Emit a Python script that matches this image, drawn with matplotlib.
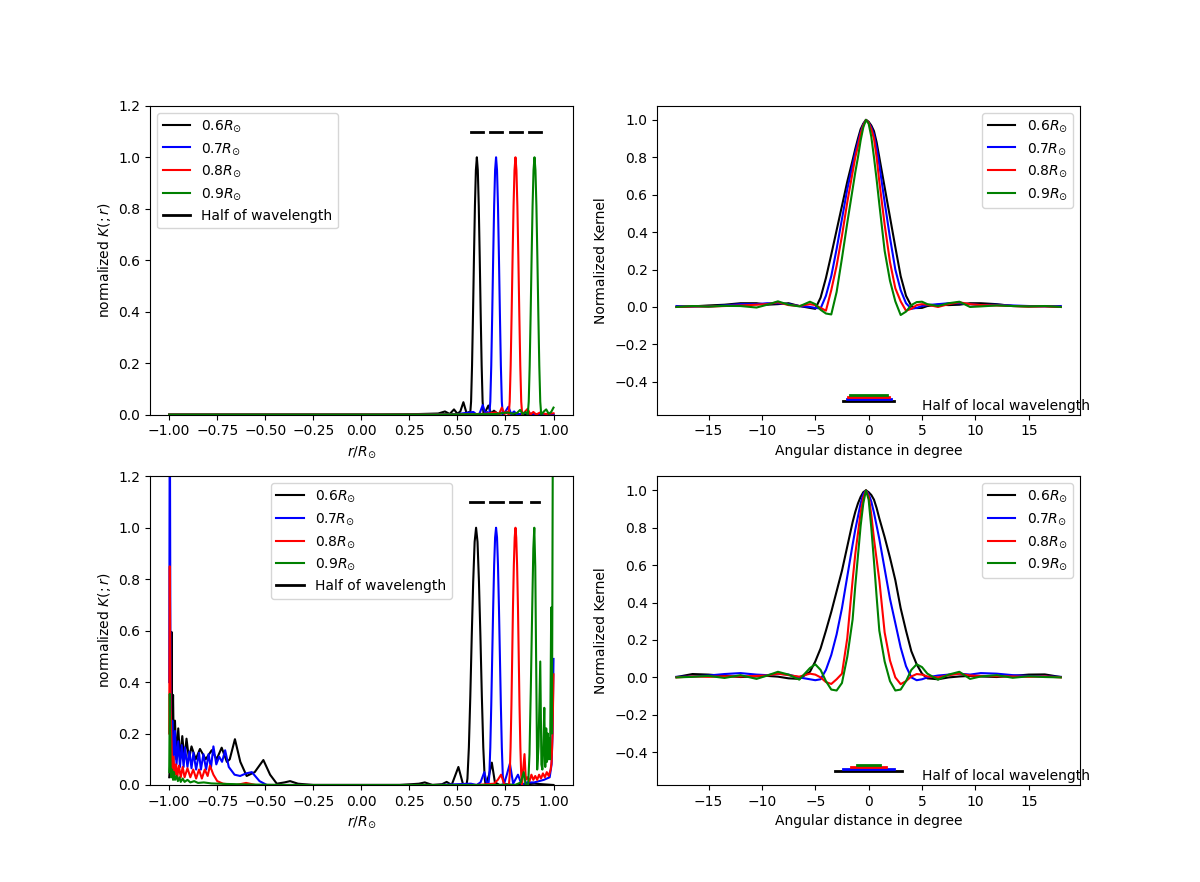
import numpy as np
import matplotlib
matplotlib.use("Agg")
from matplotlib import pyplot as plt

labels = [r"$0.6R_{\odot}$", r"$0.7R_{\odot}$", r"$0.8R_{\odot}$", r"$0.9R_{\odot}$"]
colors = ["k", "b", "r", "g"]

# ---- radial kernels (left column), (r/Rsun, K) pairs ----
tl_06 = [(-1.0, 0.0), (-0.5, 0.0), (-0.1, 0.0), (0.1, 0.0), (0.3, 0.002), (0.40, 0.004),
         (0.435, 0.012), (0.46, 0.002), (0.482, 0.02), (0.50, 0.003), (0.515, 0.012),
         (0.531, 0.048), (0.548, 0.004), (0.560, 0.01), (0.566, 0.0), (0.571, 0.05),
         (0.576, 0.19), (0.581, 0.39), (0.586, 0.61), (0.591, 0.81), (0.596, 0.95),
         (0.601, 1.0), (0.606, 0.95), (0.611, 0.81), (0.616, 0.61), (0.621, 0.39),
         (0.626, 0.19), (0.631, 0.05), (0.636, 0.0), (0.648, 0.015), (0.661, 0.035),
         (0.675, 0.004), (0.69, 0.015), (0.71, 0.003), (0.75, 0.006), (0.80, 0.002),
         (0.90, 0.0), (1.0, 0.0)]
tl_07 = [(-1.0, 0.0), (-0.5, 0.0), (0.0, 0.0), (0.3, 0.0), (0.5, 0.002), (0.583, 0.01),
         (0.60, 0.0), (0.615, 0.004), (0.632, 0.037), (0.645, 0.003), (0.655, 0.01),
         (0.666, 0.0), (0.671, 0.05), (0.676, 0.19), (0.681, 0.39), (0.686, 0.61),
         (0.691, 0.81), (0.696, 0.95), (0.701, 1.0), (0.706, 0.95), (0.711, 0.81),
         (0.716, 0.61), (0.721, 0.39), (0.726, 0.19), (0.731, 0.05), (0.736, 0.0),
         (0.75, 0.012), (0.765, 0.03), (0.78, 0.002), (0.795, 0.012), (0.81, 0.0),
         (0.85, 0.006), (0.9, 0.002), (1.0, 0.0)]
tl_08 = [(-1.0, 0.0), (-0.5, 0.0), (0.0, 0.0), (0.5, 0.0), (0.65, 0.003), (0.70, 0.008),
         (0.715, 0.0), (0.731, 0.027), (0.745, 0.002), (0.757, 0.012), (0.767, 0.0),
         (0.772, 0.05), (0.777, 0.19), (0.782, 0.39), (0.787, 0.61), (0.792, 0.81),
         (0.797, 0.95), (0.802, 1.0), (0.807, 0.95), (0.812, 0.81), (0.817, 0.61),
         (0.822, 0.39), (0.827, 0.19), (0.832, 0.05), (0.837, 0.0), (0.85, 0.01),
         (0.865, 0.022), (0.88, 0.0), (0.895, 0.01), (0.91, 0.0), (0.93, 0.008),
         (0.96, 0.002), (1.0, 0.005)]
tl_09 = [(-1.0, 0.0), (-0.5, 0.0), (0.0, 0.0), (0.4, 0.0), (0.7, 0.002), (0.76, 0.008),
         (0.79, 0.003), (0.81, 0.006), (0.826, 0.018), (0.84, 0.002), (0.855, 0.01),
         (0.866, 0.0), (0.871, 0.05), (0.876, 0.19), (0.881, 0.39), (0.886, 0.61),
         (0.891, 0.81), (0.896, 0.95), (0.901, 1.0), (0.906, 0.95), (0.911, 0.81),
         (0.916, 0.61), (0.921, 0.39), (0.926, 0.19), (0.931, 0.05), (0.936, 0.0),
         (0.95, 0.012), (0.962, 0.02), (0.975, 0.003), (0.988, 0.01), (1.0, 0.027)]

bl_06 = [(-1.0, 0.03), (-0.993, 0.1), (-0.988, 0.595), (-0.984, 0.15), (-0.980, 0.35),
         (-0.976, 0.12), (-0.970, 0.25), (-0.963, 0.10), (-0.953, 0.22), (-0.943, 0.10),
         (-0.932, 0.19), (-0.921, 0.10), (-0.910, 0.18), (-0.897, 0.10), (-0.884, 0.15),
         (-0.862, 0.10), (-0.840, 0.14), (-0.81, 0.10), (-0.779, 0.135), (-0.753, 0.10),
         (-0.727, 0.145), (-0.70, 0.09), (-0.685, 0.10), (-0.658, 0.178), (-0.63, 0.09),
         (-0.597, 0.035), (-0.555, 0.05), (-0.51, 0.097), (-0.475, 0.04), (-0.44, 0.005),
         (-0.40, 0.01), (-0.371, 0.015), (-0.33, 0.005), (-0.25, 0.0), (0.0, 0.0),
         (0.2, 0.0), (0.3, 0.005), (0.33, 0.01), (0.37, 0.0), (0.42, 0.003), (0.444, 0.012),
         (0.47, 0.0), (0.505, 0.07), (0.53, 0.0), (0.547, 0.0), (0.552, 0.024),
         (0.5595, 0.146), (0.567, 0.345), (0.5745, 0.58), (0.582, 0.79), (0.5895, 0.945),
         (0.597, 1.0), (0.6045, 0.945), (0.612, 0.79), (0.6195, 0.58), (0.627, 0.345),
         (0.6345, 0.146), (0.642, 0.024), (0.647, 0.0), (0.665, 0.04), (0.679, 0.087),
         (0.695, 0.01), (0.72, 0.0), (0.75, 0.003), (0.8, 0.0), (0.9, 0.005), (1.0, 0.0)]
bl_07 = [(-1.0, 0.4), (-0.997, 1.6), (-0.993, 0.30), (-0.988, 0.12), (-0.984, 0.25),
         (-0.978, 0.08), (-0.970, 0.21), (-0.962, 0.08), (-0.953, 0.17), (-0.944, 0.07),
         (-0.935, 0.155), (-0.925, 0.07), (-0.918, 0.146), (-0.905, 0.07), (-0.895, 0.13),
         (-0.884, 0.065), (-0.874, 0.126), (-0.86, 0.06), (-0.845, 0.125), (-0.835, 0.06),
         (-0.822, 0.12), (-0.808, 0.06), (-0.795, 0.12), (-0.783, 0.065), (-0.770, 0.15),
         (-0.755, 0.08), (-0.74, 0.11), (-0.725, 0.09), (-0.709, 0.135), (-0.69, 0.07),
         (-0.66, 0.04), (-0.631, 0.035), (-0.60, 0.045), (-0.570, 0.05), (-0.53, 0.015),
         (-0.492, 0.0), (-0.3, 0.0), (0.0, 0.0), (0.4, 0.0), (0.5, 0.003), (0.57, 0.005),
         (0.60, 0.0), (0.62, 0.01), (0.64, 0.05), (0.655, 0.0), (0.661, 0.0), (0.666, 0.038),
         (0.671, 0.146), (0.676, 0.31), (0.681, 0.5), (0.686, 0.69), (0.691, 0.854),
         (0.696, 0.962), (0.701, 1.0), (0.706, 0.962), (0.711, 0.854), (0.716, 0.69),
         (0.721, 0.5), (0.726, 0.31), (0.731, 0.146), (0.736, 0.038), (0.741, 0.0),
         (0.757, 0.04), (0.773, 0.083), (0.79, 0.005), (0.815, 0.04), (0.835, 0.0),
         (0.86, 0.01), (0.9, 0.01), (0.95, 0.02), (0.98, 0.03), (0.99, 0.08), (0.995, 0.2),
         (1.0, 0.49)]
bl_08 = [(-1.0, 0.2), (-0.997, 0.85), (-0.993, 0.3), (-0.988, 0.16), (-0.984, 0.05),
         (-0.978, 0.11), (-0.972, 0.04), (-0.965, 0.08), (-0.958, 0.03), (-0.95, 0.075),
         (-0.94, 0.03), (-0.93, 0.07), (-0.92, 0.03), (-0.905, 0.065), (-0.89, 0.03),
         (-0.875, 0.06), (-0.86, 0.025), (-0.845, 0.06), (-0.83, 0.025), (-0.815, 0.06),
         (-0.80, 0.035), (-0.788, 0.075), (-0.77, 0.04), (-0.75, 0.015), (-0.72, 0.005),
         (-0.65, 0.0), (-0.60, 0.008), (-0.55, 0.0), (0.0, 0.0), (0.6, 0.0), (0.69, 0.005),
         (0.71, 0.02), (0.727, 0.04), (0.745, 0.0), (0.768, 0.0), (0.772, 0.038),
         (0.7765, 0.146), (0.781, 0.31), (0.785, 0.5), (0.789, 0.69), (0.7935, 0.854),
         (0.798, 0.962), (0.802, 1.0), (0.806, 0.962), (0.8105, 0.854), (0.815, 0.69),
         (0.819, 0.5), (0.823, 0.31), (0.8275, 0.146), (0.832, 0.038), (0.836, 0.0),
         (0.842, 0.06), (0.849, 0.12), (0.856, 0.02), (0.865, 0.03), (0.875, 0.015),
         (0.885, 0.04), (0.895, 0.02), (0.905, 0.035), (0.915, 0.02), (0.925, 0.04),
         (0.935, 0.025), (0.945, 0.045), (0.955, 0.03), (0.965, 0.05), (0.975, 0.035),
         (0.985, 0.06), (0.99, 0.09), (0.995, 0.2), (1.0, 0.43)]
bl_09 = [(-1.0, 0.05), (-0.997, 0.354), (-0.993, 0.08), (-0.99, 0.03), (-0.985, 0.06),
         (-0.98, 0.02), (-0.975, 0.05), (-0.97, 0.02), (-0.962, 0.035), (-0.955, 0.015),
         (-0.947, 0.03), (-0.94, 0.012), (-0.93, 0.025), (-0.92, 0.012), (-0.905, 0.02),
         (-0.89, 0.01), (-0.87, 0.015), (-0.85, 0.008), (-0.82, 0.01), (-0.78, 0.006),
         (-0.70, 0.004), (-0.6, 0.002), (-0.4, 0.0), (0.0, 0.0), (0.8, 0.0), (0.83, 0.01),
         (0.845, 0.05), (0.855, 0.0), (0.868, 0.0), (0.875, 0.12), (0.882, 0.38),
         (0.889, 0.68), (0.895, 0.92), (0.900, 1.0), (0.905, 0.85), (0.910, 0.45),
         (0.915, 0.06), (0.922, 0.15), (0.931, 0.48), (0.937, 0.08), (0.942, 0.06),
         (0.947, 0.15), (0.952, 0.30), (0.957, 0.07), (0.962, 0.22), (0.966, 0.09),
         (0.970, 0.2), (0.974, 0.1), (0.978, 0.18), (0.982, 0.1), (0.988, 0.69),
         (0.992, 0.2), (0.997, 1.5), (1.0, 1.5)]

# half wavelength markers (centre, length) in r/Rsun, drawn at K = 1.1
hw_top_c = [0.602, 0.701, 0.805, 0.905]
hw_top_len = [0.063, 0.062, 0.063, 0.063]
hw_bot_c = [0.599, 0.703, 0.802, 0.905]
hw_bot_len = [0.072, 0.066, 0.056, 0.042]

# ---- angular kernels (right column) ----
ang = [-18, -16.5, -15, -13.5, -12, -10.5, -9.5, -8.5, -7.5, -6.5, -5.5, -5, -4.5, -4,
       -3.5, -3, -2.5, -2,
       -1.5, -1.25, -1, -0.75, -0.5, -0.25, 0, 0.25, 0.5, 0.75, 1,
       1.5, 2, 2.5, 3, 3.5, 4, 4.5, 5, 5.5, 6.5, 7.5, 8.5, 9.5, 10.5, 12, 13.5, 15,
       16.5, 18]

tr_06 = [0.0, 0.003, 0.008, 0.012, 0.02, 0.02, 0.012, 0.015, 0.02, 0.005, -0.005, -0.01,
         0.05, 0.155, 0.28, 0.41, 0.54, 0.67,
         0.785, 0.845, 0.9, 0.95, 0.98, 1.0, 0.99, 0.97, 0.94, 0.88, 0.80,
         0.64, 0.48, 0.32, 0.165, 0.06, 0.005, -0.006, -0.005, 0.005, 0.012, 0.01, 0.012,
         0.02, 0.02, 0.015, 0.005, 0.003, 0.005, 0.0]
tr_07 = [0.005, 0.003, 0.003, 0.008, 0.015, 0.015, 0.02, 0.02, 0.015, 0.005, 0.0, -0.005,
         -0.008, 0.06, 0.165, 0.31, 0.47, 0.63,
         0.76, 0.825, 0.88, 0.935, 0.975, 1.0, 0.985, 0.96, 0.92, 0.85, 0.76,
         0.56, 0.37, 0.2, 0.09, 0.02, -0.01, -0.005, 0.005, 0.01, 0.015, 0.02, 0.02,
         0.015, 0.01, 0.012, 0.008, 0.005, 0.003, 0.005]
tr_08 = [0.0, 0.003, 0.002, 0.005, 0.008, 0.012, 0.015, 0.025, 0.01, 0.005, 0.015, 0.01,
         -0.005, -0.02, 0.09, 0.22, 0.38, 0.56,
         0.72, 0.80, 0.86, 0.925, 0.97, 1.0, 0.985, 0.95, 0.90, 0.80, 0.67,
         0.44, 0.24, 0.1, 0.03, -0.02, -0.01, 0.01, 0.015, 0.012, 0.0, 0.015, 0.025,
         0.015, 0.01, 0.008, 0.005, 0.002, 0.003, 0.0]
tr_09 = [0.0, 0.005, 0.002, 0.006, 0.005, -0.003, 0.012, 0.03, 0.012, 0.003, 0.028, 0.015,
         -0.015, -0.035, -0.04, 0.08, 0.26, 0.45,
         0.63, 0.72, 0.80, 0.89, 0.96, 1.0, 0.98, 0.91, 0.80, 0.68, 0.55,
         0.3, 0.14, 0.03, -0.043, -0.025, 0.01, 0.026, 0.028, 0.015, 0.005, 0.02, 0.028,
         0.0, 0.003, 0.008, 0.005, 0.003, 0.005, 0.0]

br_06 = [0.002, 0.018, 0.015, 0.008, 0.002, 0.005, 0.008, 0.004, -0.005, -0.008, 0.03,
         0.085, 0.155, 0.25, 0.35, 0.46, 0.57, 0.70,
         0.83, 0.885, 0.93, 0.965, 0.99, 1.0, 0.99, 0.975, 0.95, 0.905, 0.85,
         0.75, 0.64, 0.52, 0.37, 0.25, 0.14, 0.07, 0.02, -0.005, -0.01, 0.0, 0.005,
         0.008, 0.005, 0.002, 0.008, 0.015, 0.016, 0.002]
br_07 = [0.003, 0.005, 0.01, 0.018, 0.023, 0.015, 0.012, 0.02, 0.015, 0.0, -0.01, -0.015,
         -0.01, 0.04, 0.12, 0.23, 0.37, 0.54,
         0.71, 0.79, 0.86, 0.93, 0.98, 1.0, 0.98, 0.94, 0.88, 0.81, 0.74,
         0.58, 0.42, 0.29, 0.16, 0.06, 0.0, -0.015, -0.01, 0.0, 0.01, 0.015, 0.02, 0.015,
         0.023, 0.02, 0.012, 0.008, 0.005, 0.003]
br_08 = [0.0, 0.005, 0.003, 0.006, 0.005, 0.008, 0.01, 0.02, 0.012, 0.004, 0.02, 0.015,
         0.0, -0.025, -0.035, -0.01, 0.02, 0.21,
         0.52, 0.66, 0.77, 0.88, 0.96, 1.0, 0.97, 0.87, 0.74, 0.63, 0.52,
         0.24, 0.09, 0.0, -0.036, -0.02, 0.005, 0.018, 0.015, 0.005, 0.0, 0.012, 0.02,
         0.01, 0.008, 0.006, 0.005, 0.003, 0.005, 0.0]
br_09 = [0.0, 0.003, 0.008, -0.003, 0.012, -0.008, 0.01, 0.03, 0.015, -0.012, 0.05, 0.07,
         0.04, -0.02, -0.065, -0.07, -0.03, 0.11,
         0.31, 0.49, 0.65, 0.81, 0.93, 1.0, 0.95, 0.80, 0.62, 0.43, 0.25,
         0.085, -0.02, -0.07, -0.065, -0.02, 0.04, 0.07, 0.055, 0.02, -0.012, 0.015, 0.03,
         -0.008, 0.005, 0.012, -0.002, 0.006, 0.002, 0.0]

# half of local wavelength in degrees, bars stacked just below -0.47
tr_half = [4.8, 4.1, 3.8, 3.4]
br_half = [6.3, 4.8, 3.3, 2.1]
bar_y = [-0.50, -0.49, -0.48, -0.47]

fig, axs = plt.subplots(2, 2, figsize=(12, 8.82))


def radial(ax, curves, hw_c, hw_len, legend_loc):
    for data, c, lab in zip(curves, colors, labels):
        r, k = np.array(data).T
        ax.plot(r, k, color=c, label=lab)
    for i, (cc, ll) in enumerate(zip(hw_c, hw_len)):
        ax.plot([cc - ll / 2, cc + ll / 2], [1.1, 1.1], color="k", linewidth=2,
                label="Half of wavelength" if i == 0 else None)
    ax.set_ylim(0, 1.2)
    ax.set_xlabel(r"$r/R_{\odot}$")
    ax.set_ylabel(r"normalized $K(;r)$")
    ax.legend(loc=legend_loc)


def angular(ax, curves, half):
    for k, c, lab in zip(curves, colors, labels):
        ax.plot(ang, k, color=c, label=lab)
    for h, y, c in zip(half, bar_y, colors):
        ax.plot([-h / 2, h / 2], [y, y], color=c, linewidth=2)
    ax.text(5, -0.55, "Half of local wavelength")
    ax.set_xlabel("Angular distance in degree")
    ax.set_ylabel("Normalized Kernel")
    ax.legend(loc="upper right")


radial(axs[0, 0], [tl_06, tl_07, tl_08, tl_09], hw_top_c, hw_top_len, "upper left")
radial(axs[1, 0], [bl_06, bl_07, bl_08, bl_09], hw_bot_c, hw_bot_len, "upper center")
angular(axs[0, 1], [tr_06, tr_07, tr_08, tr_09], tr_half)
angular(axs[1, 1], [br_06, br_07, br_08, br_09], br_half)

plt.savefig("out.png", dpi=100)
